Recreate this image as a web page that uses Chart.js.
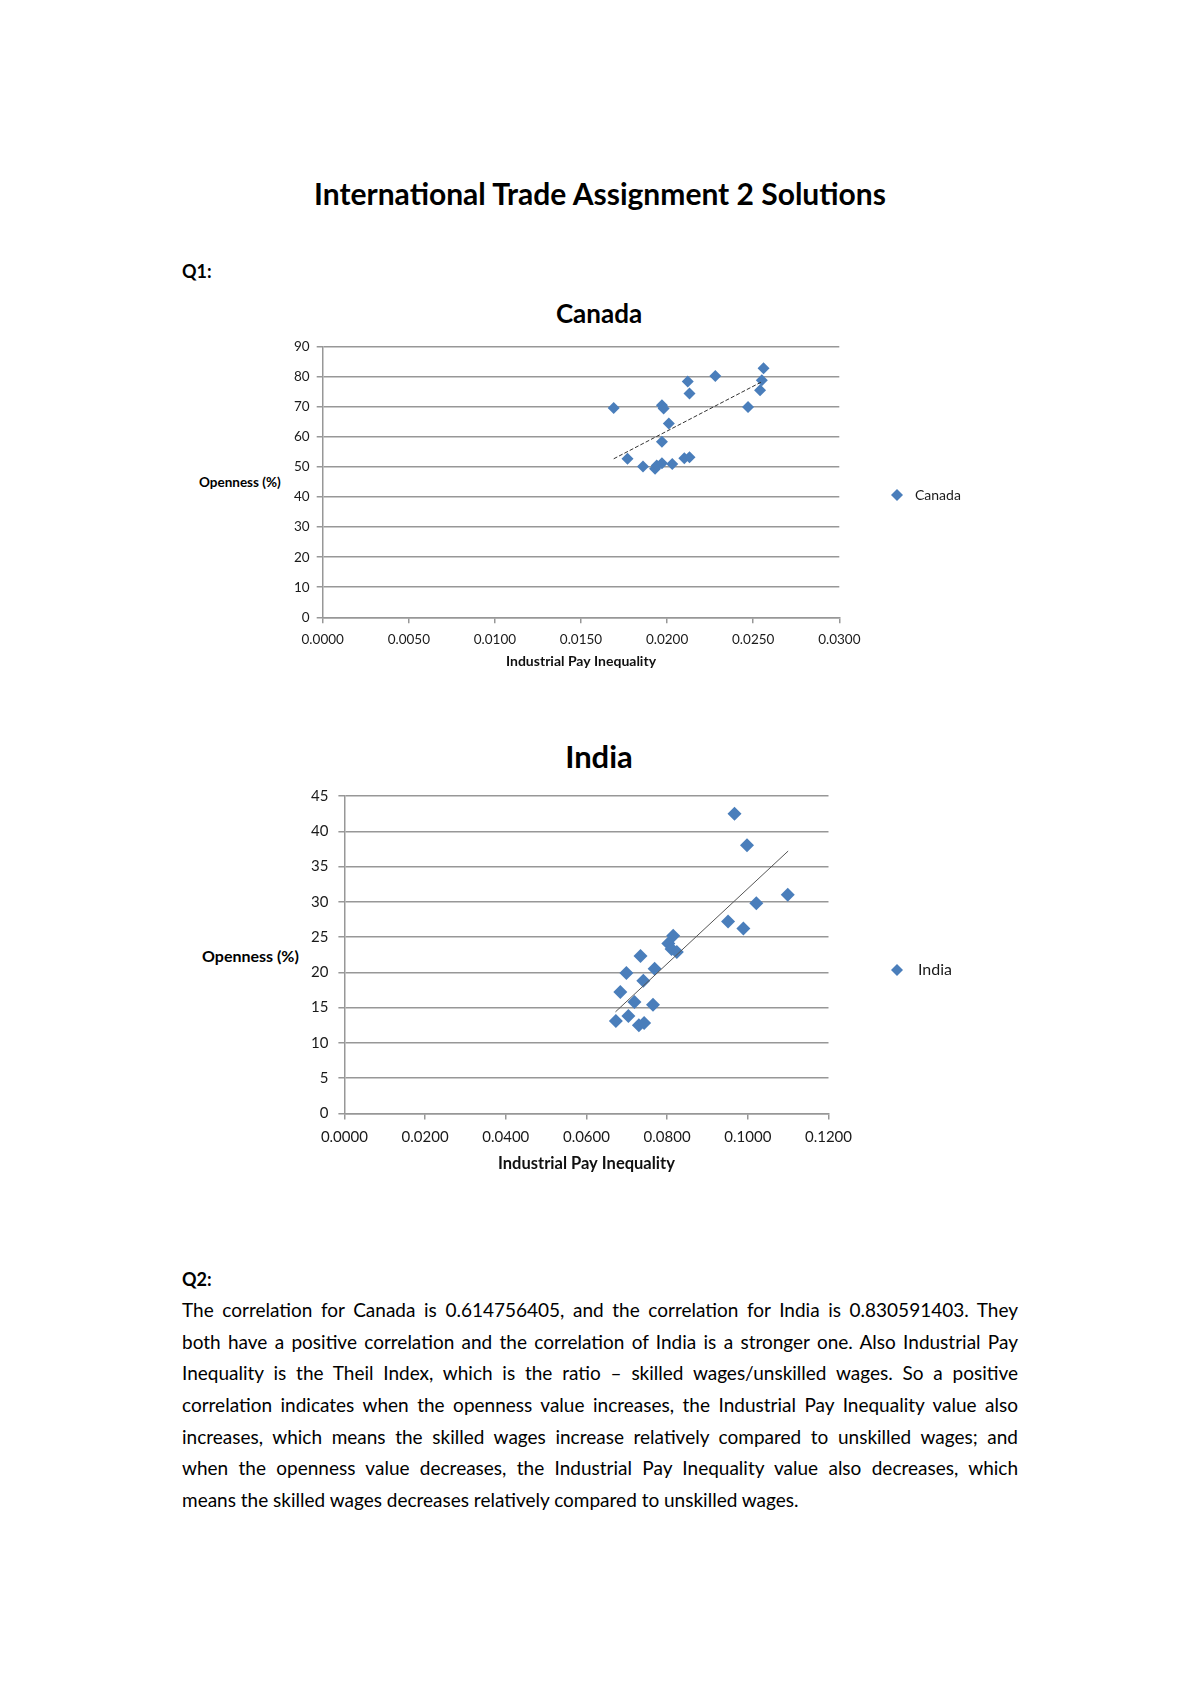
<!DOCTYPE html>
<html>
<head>
<meta charset="utf-8">
<script src="https://cdn.jsdelivr.net/npm/chart.js@4.4.0/dist/chart.umd.min.js"></script>
<style>
body{margin:0;background:#fff;width:1200px;height:1698px;position:relative;overflow:hidden;font-family:Lato,"Open Sans",sans-serif;color:#000}
.t{position:absolute;white-space:nowrap;line-height:1;transform:translateY(-50%)}
.c{transform:translate(-50%,-50%)}
.b{font-weight:bold}
.box{position:absolute}
.ln{position:absolute;left:182px;width:836px;white-space:nowrap;font-size:19px;line-height:1;transform:translateY(-50%)}
</style>
</head>
<body>
<div class="t c b" style="left:600px;top:193px;font-size:30px">International Trade Assignment 2 Solutions</div>
<div class="t b" style="left:182px;top:271px;font-size:18px">Q1:</div>

<div class="t c b" style="left:599px;top:313px;font-size:26px">Canada</div>
<div class="t b" style="left:199px;top:483px;font-size:13.5px">Openness (%)</div>
<div class="box" style="left:150px;top:330px;width:830px;height:340px"><canvas id="canada" width="830" height="340"></canvas></div>

<div class="t c b" style="left:599px;top:756px;font-size:31px">India</div>
<div class="t b" style="left:202px;top:956px;font-size:16px">Openness (%)</div>
<div class="box" style="left:150px;top:770px;width:830px;height:420px"><canvas id="india" width="830" height="420"></canvas></div>

<div class="t b" style="left:182px;top:1279px;font-size:18px">Q2:</div>
<div id="para"></div>

<script>
// Canada
const canadaX = [0.0169, 0.0177, 0.0186, 0.0193, 0.0194, 0.0197, 0.0197, 0.0197, 0.0198, 0.0201, 0.0203, 0.0210, 0.0212, 0.0213, 0.0213, 0.0228, 0.0247, 0.0254, 0.0255, 0.0256];
const canadaY = [69.6, 52.7, 50.1, 49.4, 50.5, 51.2, 58.4, 70.5, 69.4, 64.4, 51.0, 52.9, 78.4, 53.2, 74.4, 80.2, 69.9, 75.5, 78.8, 82.8];
const canadaTrendX = [0.0169, 0.0255];
const canadaTrendY = [52.7, 78.3];
const canadaXTicks = [0, 0.03, 0.005];
const canadaYTicks = [0, 90, 10];

// India
const indiaX = [0.0967, 0.0998, 0.1099, 0.1021, 0.0951, 0.0989, 0.0815, 0.0803, 0.0811, 0.0824, 0.0734, 0.0769, 0.0699, 0.0741, 0.0684, 0.0719, 0.0765, 0.0673, 0.0704, 0.0730, 0.0743];
const indiaY = [42.5, 38.0, 31.0, 29.8, 27.2, 26.2, 25.2, 24.1, 23.3, 22.9, 22.3, 20.5, 19.9, 18.8, 17.2, 15.8, 15.4, 13.1, 13.8, 12.5, 12.8];
const indiaTrendX = [0.0672, 0.1100];
const indiaTrendY = [14.4, 37.2];
const indiaXTicks = [0, 0.12, 0.02];
const indiaYTicks = [0, 45, 5];

const paraLines = [
  "The correlation for Canada is 0.614756405, and the correlation for India is 0.830591403. They",
  "both have a positive correlation and the correlation of India is a stronger one. Also Industrial Pay",
  "Inequality is the Theil Index, which is the ratio \u2013 skilled wages/unskilled wages. So a positive",
  "correlation indicates when the openness value increases, the Industrial Pay Inequality value also",
  "increases, which means the skilled wages increase relatively compared to unskilled wages; and",
  "when the openness value decreases, the Industrial Pay Inequality value also decreases, which",
  "means the skilled wages decreases relatively compared to unskilled wages."
];

const blue = "#4A7EBB";
const grid = "#979797";
const pts = (xs, ys) => xs.map((x, i) => ({x: x, y: ys[i]}));

// legend drawn to the right of the plot
const sideLegend = {
  id: "sideLegend",
  afterDraw(chart, args, o) {
    const ctx = chart.ctx;
    const r = 6;
    ctx.save();
    ctx.fillStyle = blue;
    ctx.beginPath();
    ctx.moveTo(o.x, o.y - r); ctx.lineTo(o.x + r, o.y); ctx.lineTo(o.x, o.y + r); ctx.lineTo(o.x - r, o.y);
    ctx.closePath(); ctx.fill();
    ctx.fillStyle = "#1a1a1a";
    ctx.font = o.size + "px Lato";
    ctx.textBaseline = "middle";
    ctx.fillText(o.text, o.x + o.gap, o.y);
    ctx.restore();
  }
};

function makeChart(id, cfg) {
  return new Chart(document.getElementById(id), {
    type: "scatter",
    data: {datasets: [
      {label: cfg.name, data: pts(cfg.x, cfg.y), backgroundColor: blue, borderColor: blue,
       pointStyle: "rectRot", pointRadius: cfg.r, pointHoverRadius: cfg.r, borderWidth: 0, order: 2},
      {type: "line", label: "trend", data: pts(cfg.tx, cfg.ty), showLine: true, pointRadius: 0,
       borderColor: cfg.trendColor, borderWidth: 1, borderDash: cfg.dash, fill: false, order: 1}
    ]},
    options: {
      responsive: false, animation: false,
      layout: {padding: cfg.pad},
      plugins: {legend: {display: false}, tooltip: {enabled: false}, sideLegend: cfg.legend},
      scales: {
        x: {type: "linear", min: cfg.xt[0], max: cfg.xt[1],
            ticks: {stepSize: cfg.xt[2], padding: cfg.xPad, color: "#1a1a1a", font: {family: "Lato", size: cfg.fs},
                    callback: v => v.toFixed(4)},
            grid: {drawOnChartArea: false, drawTicks: true, tickLength: 6, color: grid, lineWidth: 1.5},
            border: {display: true, color: grid, width: 1.5},
            title: {display: true, text: "Industrial Pay Inequality", color: "#111",
                    font: {family: "Lato", size: cfg.tfs, weight: "bold"}, padding: {top: 0, bottom: 0}},
            afterFit: s => { s.height = cfg.xh; s.paddingLeft = 0; s.paddingRight = 0; }},
        y: {min: cfg.yt[0], max: cfg.yt[1],
            ticks: {stepSize: cfg.yt[2], padding: cfg.yPad, color: "#1a1a1a", font: {family: "Lato", size: cfg.fs}},
            grid: {color: grid, lineWidth: 1.5, tickLength: 6},
            border: {display: true, color: grid, width: 1.5},
            afterFit: s => { s.width = cfg.yw; s.paddingTop = 0; s.paddingBottom = 0; }}
      }
    },
    plugins: [sideLegend]
  });
}

makeChart("canada", {
  name: "Canada", x: canadaX, y: canadaY, tx: canadaTrendX, ty: canadaTrendY, r: 6,
  trendColor: "#333", dash: [4, 2], xt: canadaXTicks, yt: canadaYTicks,
  pad: {left: 0, top: 16.6, right: 140.7, bottom: 0.6}, yw: 172.7, xh: 52.1,
  fs: 13.5, tfs: 14, xPad: 8, yPad: 7, legend: {x: 747, y: 165, text: "Canada", size: 14, gap: 18}
});

makeChart("india", {
  name: "India", x: indiaX, y: indiaY, tx: indiaTrendX, ty: indiaTrendY, r: 7,
  trendColor: "#555", dash: [], xt: indiaXTicks, yt: indiaYTicks,
  pad: {left: 0, top: 26, right: 151.5, bottom: 16.1}, yw: 194.4, xh: 60.5,
  fs: 15, tfs: 16.5, xPad: 9, yPad: 10, legend: {x: 747, y: 200, text: "India", size: 16, gap: 21}
});

// paragraph, one justified line each
const para = document.getElementById("para");
paraLines.forEach((txt, i) => {
  const d = document.createElement("div");
  d.className = "ln";
  d.style.top = (1309 + i * 31.67) + "px";
  const sp = document.createElement("span");
  sp.textContent = txt;
  d.appendChild(sp);
  para.appendChild(d);
  const w = sp.getBoundingClientRect().width;
  const gaps = txt.split(" ").length - 1;
  if (i < paraLines.length - 1) d.style.wordSpacing = ((836 - w) / gaps) + "px";
  else if (w > 836) d.style.wordSpacing = ((836 - w) / gaps) + "px";
});
</script>
</body>
</html>
